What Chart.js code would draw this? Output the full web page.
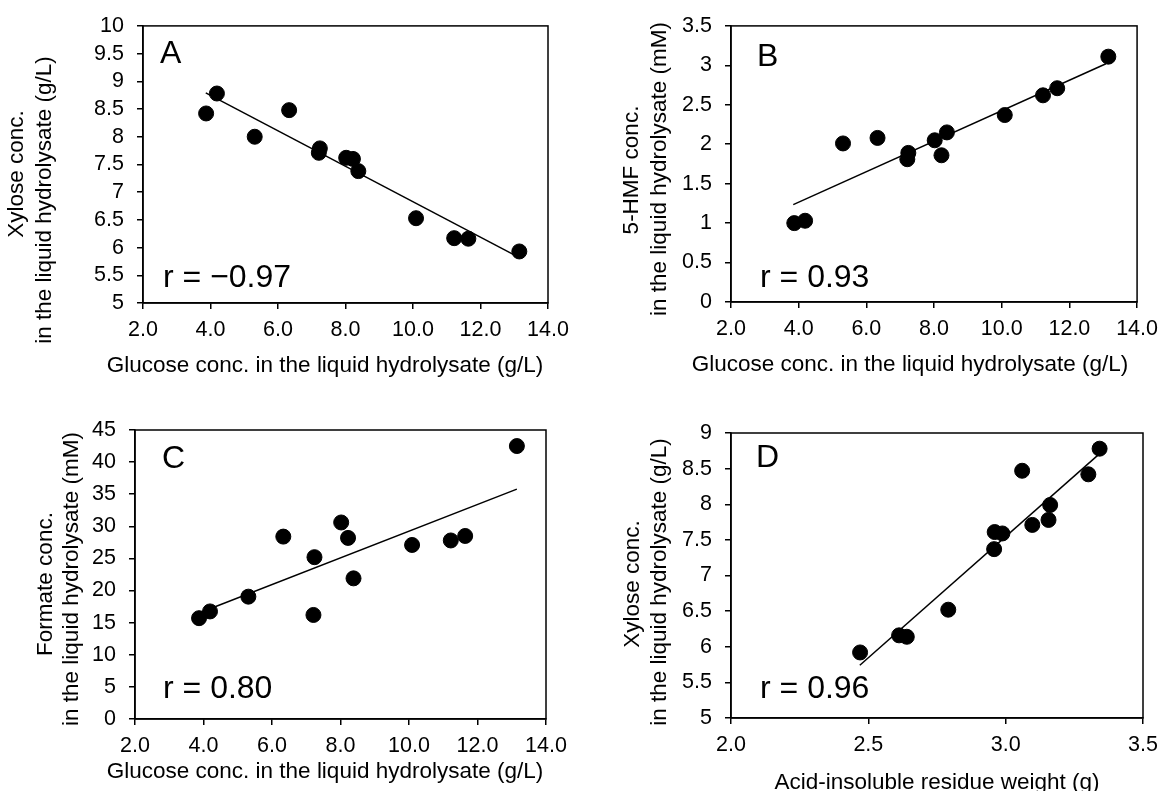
<!DOCTYPE html>
<html>
<head>
<meta charset="utf-8">
<script src="https://cdn.jsdelivr.net/npm/chart.js@4"></script>
<style>
  body { margin: 0; background: #fff; }
  canvas { position: absolute; }
</style>
</head>
<body>
<canvas id="panelA" width="583" height="395" style="left:0;top:0"></canvas>
<canvas id="panelB" width="583" height="395" style="left:583px;top:0"></canvas>
<canvas id="panelC" width="583" height="396" style="left:0;top:395px"></canvas>
<canvas id="panelD" width="583" height="396" style="left:583px;top:395px"></canvas>
<script>
// glucose conc. in the liquid hydrolysate (g/L), same samples in A, B, C
const glucose = [3.87, 4.19, 5.31, 6.33, 7.24, 7.21, 8.02, 8.22, 8.38, 10.09, 11.22, 11.64, 13.15];
const xyloseA = [8.42, 8.78, 8.00, 8.48, 7.79, 7.71, 7.62, 7.60, 7.38, 6.53, 6.17, 6.16, 5.93];
const hmfB = [1.00, 1.03, 2.01, 2.08, 1.89, 1.81, 2.05, 1.86, 2.15, 2.37, 2.62, 2.71, 3.11];
const formateC = [15.7, 16.75, 19.05, 28.4, 25.2, 16.2, 30.6, 28.2, 21.9, 27.1, 27.8, 28.5, 42.5];
// acid-insoluble residue weight (g) vs xylose
const residueD = [2.470, 2.612, 2.640, 2.791, 2.958, 2.960, 2.988, 3.060, 3.097, 3.156, 3.162, 3.301, 3.342];
const xyloseD = [5.92, 6.16, 6.14, 6.52, 7.37, 7.61, 7.59, 8.47, 7.71, 7.78, 7.99, 8.42, 8.78];

// trend line end points
const fitAx = [3.86, 13.18], fitAy = [8.79, 5.81];
const fitBx = [3.84, 13.08], fitBy = [1.235, 3.02];
const fitCx = [3.87, 13.15], fitCy = [16.5, 35.8];
const fitDx = [2.469, 3.336], fitDy = [5.74, 8.69];

const FONT = '"Liberation Sans", Arial, sans-serif';

const panelText = {
  id: 'panelText',
  afterDraw(chart, args, o) {
    const { ctx, chartArea: a } = chart;
    ctx.save();
    ctx.strokeStyle = '#000';
    ctx.lineWidth = 1.5;
    ctx.strokeRect(a.left, a.top, a.right - a.left, a.bottom - a.top);
    ctx.fillStyle = '#000';
    ctx.font = '32px ' + FONT;
    ctx.textAlign = 'left';
    ctx.textBaseline = 'alphabetic';
    ctx.fillText(o.letter, a.left + o.letterAt[0], a.top + o.letterAt[1]);
    ctx.fillText(o.r, a.left + o.rAt[0], a.bottom - o.rAt[1]);
    ctx.font = '22.5px ' + FONT;
    ctx.textAlign = 'center';
    ctx.fillText(o.xTitle, o.xTitleAt[0], o.xTitleAt[1]);
    ctx.textBaseline = 'middle';
    o.yTitle.forEach((t, i) => {
      ctx.save();
      ctx.translate(o.yTitleAt[i][0], o.yTitleAt[i][1]);
      ctx.rotate(-Math.PI / 2);
      ctx.fillText(t, 0, 0);
      ctx.restore();
    });
    ctx.restore();
  }
};

function axis(min, max, step, fit, isX, fmt) {
  return {
    type: 'linear',
    min, max,
    afterFit(s) { if (isX) s.height = fit; else s.width = fit; },
    grid: { drawOnChartArea: false, drawTicks: true, tickLength: 6, color: '#000', lineWidth: 1.5 },
    border: { display: true, color: '#000', width: 1.5 },
    ticks: {
      stepSize: step,
      autoSkip: false,
      maxRotation: 0,
      padding: isX ? 8 : 13,
      color: '#000',
      font: { family: FONT, size: 21.5 },
      callback: fmt || (v => v)
    }
  };
}

function panel(id, o) {
  new Chart(document.getElementById(id), {
    type: 'scatter',
    data: {
      datasets: [
        {
          data: o.xs.map((x, i) => ({ x, y: o.ys[i] })),
          backgroundColor: '#000', borderColor: '#000',
          pointRadius: 7.5, pointHoverRadius: 7.5
        },
        {
          data: o.fitX.map((x, i) => ({ x, y: o.fitY[i] })),
          showLine: true, borderColor: '#000', borderWidth: 1.5,
          pointRadius: 0
        }
      ]
    },
    options: {
      responsive: false,
      animation: false,
      events: [],
      layout: { padding: { top: o.pad[0], right: o.pad[1], bottom: 0, left: 0 } },
      scales: {
        x: axis(o.xRange[0], o.xRange[1], o.xRange[2], o.xFit, true, v => v.toFixed(1)),
        y: axis(o.yRange[0], o.yRange[1], o.yRange[2], o.yFit, false)
      },
      plugins: {
        legend: { display: false },
        tooltip: { enabled: false },
        panelText: o.text
      }
    },
    plugins: [panelText]
  });
}

panel('panelA', {
  xs: glucose, ys: xyloseA, fitX: fitAx, fitY: fitAy,
  xRange: [2, 14, 2], yRange: [5, 10, 0.5],
  pad: [16, 35], yFit: 143, xFit: 92,
  text: {
    letter: 'A', letterAt: [17, 37], r: 'r = \u22120.97', rAt: [20, 16],
    xTitle: 'Glucose conc. in the liquid hydrolysate (g/L)', xTitleAt: [325, 372],
    yTitle: ['Xylose conc.', 'in the liquid hydrolysate (g/L)'], yTitleAt: [[17, 174], [45, 200]]
  }
});

panel('panelB', {
  xs: glucose, ys: hmfB, fitX: fitBx, fitY: fitBy,
  xRange: [2, 14, 2], yRange: [0, 3.5, 0.5],
  pad: [16, 21], yFit: 148, xFit: 93,
  text: {
    letter: 'B', letterAt: [26, 40], r: 'r = 0.93', rAt: [29, 15],
    xTitle: 'Glucose conc. in the liquid hydrolysate (g/L)', xTitleAt: [327, 371],
    yTitle: ['5-HMF conc.', 'in the liquid hydrolysate (mM)'], yTitleAt: [[49, 170], [77, 169]]
  }
});

panel('panelC', {
  xs: glucose, ys: formateC, fitX: fitCx, fitY: fitCy,
  xRange: [2, 14, 2], yRange: [0, 45, 5],
  pad: [35, 37], yFit: 135, xFit: 72,
  text: {
    letter: 'C', letterAt: [27, 38], r: 'r = 0.80', rAt: [28, 21],
    xTitle: 'Glucose conc. in the liquid hydrolysate (g/L)', xTitleAt: [325, 383],
    yTitle: ['Formate conc.', 'in the liquid hydrolysate (mM)'], yTitleAt: [[46, 189], [72, 184]]
  }
});

panel('panelD', {
  xs: residueD, ys: xyloseD, fitX: fitDx, fitY: fitDy,
  xRange: [2, 3.5, 0.5], yRange: [5, 9, 0.5],
  pad: [38, 23], yFit: 148, xFit: 73,
  text: {
    letter: 'D', letterAt: [25, 34], r: 'r = 0.96', rAt: [29, 20],
    xTitle: 'Acid-insoluble residue weight (g)', xTitleAt: [354, 394],
    yTitle: ['Xylose conc.', 'in the liquid hydrolysate (g/L)'], yTitleAt: [[50, 189], [77, 187]]
  }
});
</script>
</body>
</html>
